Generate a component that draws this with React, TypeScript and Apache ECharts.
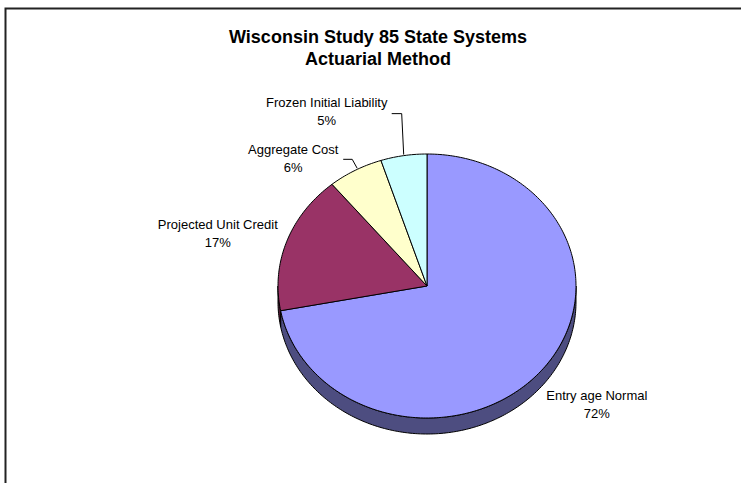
import React, { useEffect, useRef } from "react";
import * as echarts from "echarts";

const TITLE_LINES = ["Wisconsin Study 85 State Systems", "Actuarial Method"];
const CATEGORIES = [
  "Entry age Normal",
  "Projected Unit Credit",
  "Aggregate Cost",
  "Frozen Initial Liability",
];
const VALUES = [72, 17, 6, 5];
const TOP_COLORS = ["#9999FF", "#993366", "#FFFFCC", "#CCFFFF"];
const SIDE_COLORS = ["#4D4D80", "#4D1A33", "#808066", "#668080"];

// layout (not data)
const CX = 427;
const CY = 286;
const RX = 149;
const RY = 132;
const DEPTH = 16;
const FONT = "'Liberation Sans', Arial, Helvetica, sans-serif";
// label centre offsets from the slice's rim mid-point
const LABEL_OFFSETS = [
  [55, 34],
  [-69, -8],
  [-62, -12],
  [-77, -44],
];
// leader line offsets (start, elbow, end) from the rim mid-point; null = no leader
const LEADERS: (number[][] | null)[] = [
  null,
  null,
  [[2, -2], [-3, -11], [-12, -11]],
  [[0, -1], [-2, -42], [-12, -42]],
];

const TOTAL = VALUES.reduce((a, b) => a + b, 0);
const STARTS: number[] = [];
{
  let acc = 0;
  for (const v of VALUES) {
    STARTS.push((acc / TOTAL) * Math.PI * 2);
    acc += v;
  }
}

function pt(theta: number, dy = 0): number[] {
  return [CX + RX * Math.sin(theta), CY - RY * Math.cos(theta) + dy];
}

function arc(a: number, b: number, dy = 0): number[][] {
  const pts: number[][] = [];
  const n = Math.max(2, Math.ceil(((b - a) * 180) / Math.PI));
  for (let i = 0; i <= n; i++) {
    pts.push(pt(a + ((b - a) * i) / n, dy));
  }
  return pts;
}

export default function App() {
  const ref = useRef<HTMLDivElement>(null);
  useEffect(() => {
    if (!ref.current) return;
    const chart = echarts.init(ref.current, undefined, { renderer: "svg" });

    const sideRender = (params: any, api: any) => {
      const i = params.dataIndex;
      const v = api.value(0);
      const a = STARTS[i];
      const b = a + (v / TOTAL) * Math.PI * 2;
      const fa = Math.max(a, Math.PI / 2);
      const fb = Math.min(b, (Math.PI * 3) / 2);
      if (fa >= fb) return { type: "group", children: [] };
      const top = arc(fa, fb, 0);
      const bottom = arc(fa, fb, DEPTH).reverse();
      return {
        type: "polygon",
        shape: { points: top.concat(bottom) },
        style: { fill: SIDE_COLORS[i], stroke: "#000", lineWidth: 1 },
      };
    };

    const topRender = (params: any, api: any) => {
      const i = params.dataIndex;
      const v = api.value(0);
      const a = STARTS[i];
      const b = a + (v / TOTAL) * Math.PI * 2;
      const children: any[] = [
        {
          type: "polygon",
          shape: { points: [[CX, CY]].concat(arc(a, b)) },
          style: { fill: TOP_COLORS[i], stroke: "#000", lineWidth: 1 },
        },
      ];
      const mid = pt((a + b) / 2);
      const off = LABEL_OFFSETS[i];
      children.push({
        type: "text",
        x: mid[0] + off[0],
        y: mid[1] + off[1],
        z2: 10,
        style: {
          text: `${CATEGORIES[i]}\n${Math.round((v / TOTAL) * 100)}%`,
          fill: "#000",
          font: `13px ${FONT}`,
          align: "center",
          verticalAlign: "middle",
          lineHeight: 18,
        },
      });
      const ld = LEADERS[i];
      if (ld) {
        children.push({
          type: "polyline",
          z2: 10,
          shape: { points: ld.map((d) => [mid[0] + d[0], mid[1] + d[1]]) },
          style: { stroke: "#000", lineWidth: 1, fill: null },
        });
      }
      return { type: "group", children };
    };

    chart.setOption({
      animation: false,
      backgroundColor: "#fff",
      title: {
        text: TITLE_LINES.join("\n"),
        left: 378,
        top: 26,
        padding: 0,
        textAlign: "center",
        textStyle: {
          fontFamily: FONT,
          fontSize: 18,
          fontWeight: "bold",
          color: "#000",
          lineHeight: 22,
        },
      },
      graphic: [
        {
          type: "polyline",
          shape: { points: [[5.5, 500], [5.5, 8.5], [760, 8.5]] },
          style: { fill: null, stroke: "#222", lineWidth: 2 },
          silent: true,
        },
      ],
      series: [
        {
          type: "custom",
          coordinateSystem: "none",
          renderItem: sideRender,
          data: VALUES.map((v, i) => ({ name: CATEGORIES[i], value: [v] })),
          z: 1,
          silent: true,
        },
        {
          type: "custom",
          coordinateSystem: "none",
          renderItem: topRender,
          data: VALUES.map((v, i) => ({ name: CATEGORIES[i], value: [v] })),
          z: 2,
          silent: true,
        },
      ],
    });
    return () => chart.dispose();
  }, []);
  return (
    <div
      ref={ref}
      style={{ position: "fixed", left: 0, top: 0, width: 741, height: 483 }}
    />
  );
}
